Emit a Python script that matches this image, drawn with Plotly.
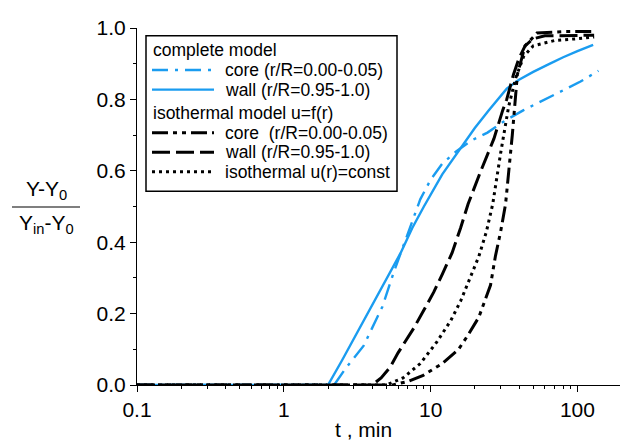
import plotly.graph_objects as go

# complete model
t_core_c = [0.1, 2.2, 2.64, 3.0, 3.5, 4.0, 4.7, 5.6, 6.5, 7.5, 8.5, 10, 12, 15, 19, 24.4, 32, 43, 60, 79, 105, 139]
y_core_c = [0.0, 0.0, 0.047, 0.075, 0.11, 0.16, 0.22, 0.315, 0.39, 0.46, 0.52, 0.575, 0.62, 0.655, 0.685, 0.707, 0.74, 0.77, 0.80, 0.825, 0.85, 0.88]

t_wall_c = [0.1, 2.0, 2.5, 3.0, 4.0, 5.0, 6.25, 7.5, 9.0, 12, 16, 20, 25, 33, 40, 50, 65, 80, 100, 128]
y_wall_c = [0.0, 0.0, 0.07, 0.13, 0.225, 0.3, 0.37, 0.44, 0.5, 0.59, 0.663, 0.72, 0.77, 0.83, 0.855, 0.877, 0.90, 0.918, 0.935, 0.953]

# isothermal model u=f(r)
t_core_i = [0.1, 5.5, 7.0, 8.9, 12, 15.5, 18, 21.3, 25.6, 27.6, 30, 32.4, 36, 39, 44, 53, 80, 130]
y_core_i = [0.0, 0.0, 0.01, 0.027, 0.06, 0.1, 0.14, 0.19, 0.28, 0.36, 0.43, 0.507, 0.7, 0.87, 0.95, 0.986, 0.99, 0.99]

t_wall_i = [0.1, 4.0, 4.6, 5.3, 6.0, 7.7, 9.0, 10.5, 12, 14, 16, 18, 22, 27, 31, 33, 36.7, 40, 44, 50, 60, 90, 130]
y_wall_i = [0.0, 0.0, 0.02, 0.05, 0.09, 0.16, 0.21, 0.26, 0.31, 0.37, 0.44, 0.507, 0.6, 0.69, 0.77, 0.8, 0.87, 0.915, 0.95, 0.97, 0.978, 0.98, 0.98]

t_const = [0.1, 5.0, 6.5, 8.5, 11, 13.7, 16, 17.8, 21.3, 24, 26.5, 30, 34, 38, 43, 50, 70, 100, 130]
y_const = [0.0, 0.0, 0.02, 0.06, 0.12, 0.18, 0.235, 0.28, 0.36, 0.43, 0.507, 0.65, 0.78, 0.86, 0.92, 0.95, 0.965, 0.97, 0.975]

group_titles = ["complete model", "isothermal model u=f(r)"]

blue = "#1a9cf0"

# (x, y, label, colour, width, dash, group)
series = [
    (t_core_c, y_core_c, "core (r/R=0.00-0.05)", blue, 2.4, "16px,7px,3px,7px", 0),
    (t_wall_c, y_wall_c, "wall (r/R=0.95-1.0)", blue, 2.4, "solid", 0),
    (t_core_i, y_core_i, "core  (r/R=0.00-0.05)", "black", 3, "16px,5px,4px,5px,4px,5px", 1),
    (t_wall_i, y_wall_i, "wall (r/R=0.95-1.0)", "black", 3, "18px,6px", 1),
    (t_const, y_const, "isothermal u(r)=const", "black", 3, "3px,4px", 1),
]

fig = go.Figure()
for x, y, name, col, w, dash, g in series:
    fig.add_trace(go.Scatter(x=x, y=y, name=name, mode="lines",
                             line=dict(color=col, width=w, dash=dash),
                             showlegend=False, cliponaxis=False))

# hand-made legend box (paper coords; plot area spans 137..620 x 20..385 px)
def px(v):
    return (v - 137) / 483.0

def py(v):
    return (385 - v) / 365.0

shapes = [dict(type="rect", xref="paper", yref="paper",
               x0=px(146), x1=px(397), y0=py(28), y1=py(187),
               line=dict(color="black", width=1.5), fillcolor="white", layer="above")]
annotations = []
row_y = 43
row_h = 20
prev_g = None
for x, y, name, col, w, dash, g in series:
    if g != prev_g:
        if prev_g is not None:
            row_y += 4
        annotations.append(dict(text=group_titles[g], x=px(151), y=py(row_y), xref="paper", yref="paper",
                                xanchor="left", yanchor="middle", showarrow=False, font=dict(size=17.5)))
        row_y += row_h
        prev_g = g
    shapes.append(dict(type="line", xref="paper", yref="paper", x0=px(152), x1=px(214),
                       y0=py(row_y), y1=py(row_y), layer="above",
                       line=dict(color=col, width=w, dash=dash)))
    annotations.append(dict(text=name, x=px(223), y=py(row_y), xref="paper", yref="paper",
                            xanchor="left", yanchor="middle", showarrow=False, font=dict(size=17.5)))
    row_y += row_h

# axis titles
annotations += [
    dict(text="t , min", x=px(363), y=py(431), xref="paper", yref="paper",
         showarrow=False, font=dict(size=21), xanchor="center", yanchor="middle"),
    dict(text="Y-Y<sub>0</sub>", x=px(46), y=py(186), xref="paper", yref="paper",
         showarrow=False, font=dict(size=21), xanchor="center", yanchor="middle"),
    dict(text="Y<sub>in</sub>-Y<sub>0</sub>", x=px(46), y=py(220), xref="paper", yref="paper",
         showarrow=False, font=dict(size=21), xanchor="center", yanchor="middle"),
]
shapes.append(dict(type="line", xref="paper", yref="paper", x0=px(12), x1=px(80),
                   y0=py(203), y1=py(203), line=dict(color="black", width=1.2)))

# the page body has an 8px margin, so the figure starts 8px in
fig.update_layout(
    width=620, height=435,
    margin=dict(l=129, r=8, t=12, b=58),
    paper_bgcolor="white", plot_bgcolor="white",
    font=dict(family="Liberation Sans, Arial", color="black", size=21),
    showlegend=False,
    xaxis=dict(
        type="log", range=[-1, 2.29],
        tickvals=[0.1, 1, 10, 100], ticktext=["0.1", "1", "10", "100"],
        ticks="outside", ticklen=6, tickwidth=1.2, tickcolor="black",
        showline=True, linecolor="black", linewidth=1.2,
        showgrid=False, zeroline=False,
        minor=dict(ticks="outside", ticklen=3, tickcolor="black",
                   tickvals=[0.2, 0.3, 0.4, 0.5, 0.6, 0.7, 0.8, 0.9,
                             2, 3, 4, 5, 6, 7, 8, 9,
                             20, 30, 40, 50, 60, 70, 80, 90, 200],
                   showgrid=False),
    ),
    yaxis=dict(
        range=[0, 1], dtick=0.2, tickformat=".1f",
        ticks="outside", ticklen=6, tickwidth=1.2, tickcolor="black",
        showline=True, linecolor="black", linewidth=1.2,
        showgrid=False, zeroline=False,
        minor=dict(ticks="outside", ticklen=3, tickcolor="black", dtick=0.1, showgrid=False),
    ),
    annotations=annotations,
    shapes=shapes,
)

fig.write_html("out.html")
